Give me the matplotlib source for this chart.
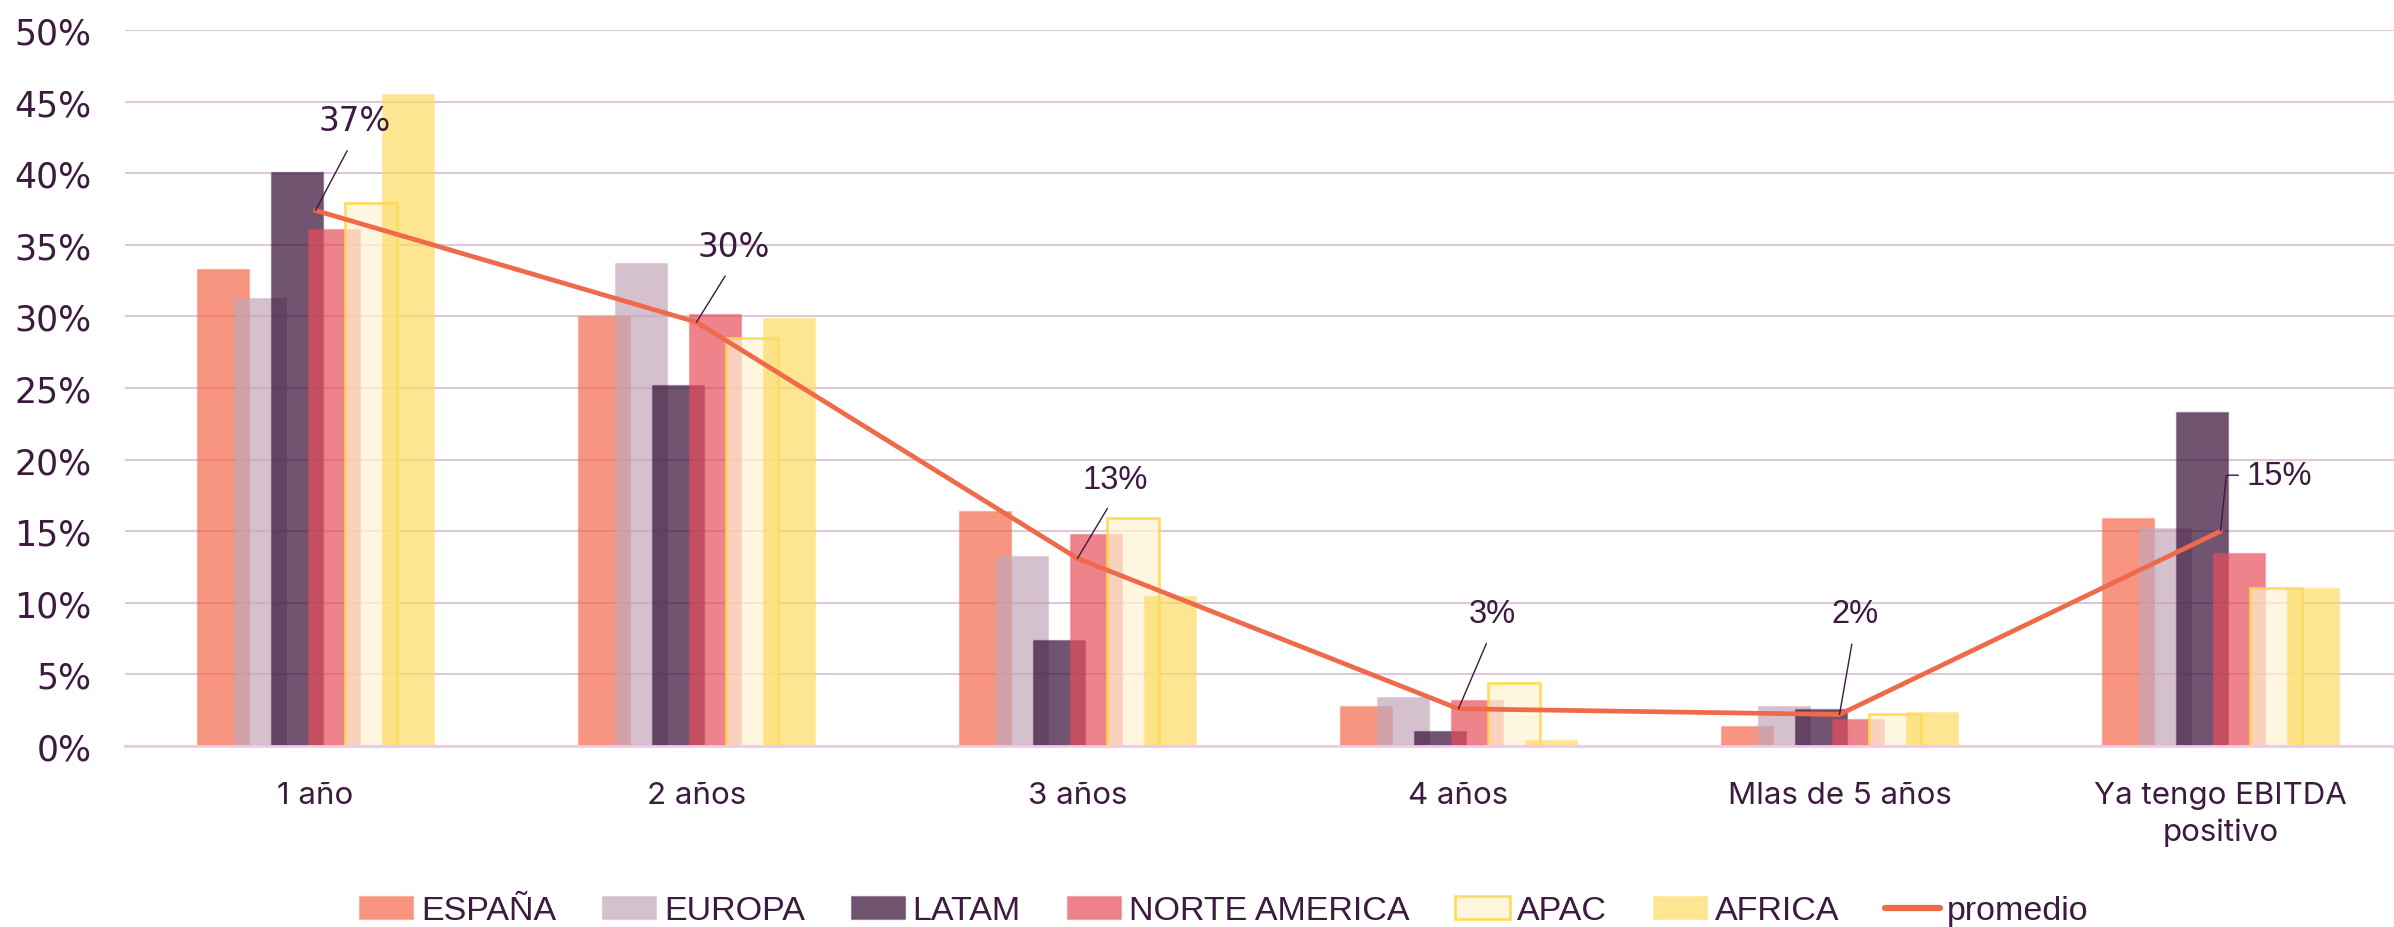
import numpy as np
import matplotlib
matplotlib.use("Agg")
import matplotlib.pyplot as plt
from matplotlib.colors import to_rgba
from matplotlib.lines import Line2D

categories = ["1 año", "2 años", "3 años", "4 años", "Mlas de 5 años", "Ya tengo EBITDA\npositivo"]
series_names = ["ESPAÑA", "EUROPA", "LATAM", "NORTE AMERICA", "APAC", "AFRICA"]
espana = [33.3, 30.0, 16.4, 2.8, 1.4, 15.9]
europa = [31.3, 33.7, 13.3, 3.4, 2.8, 15.2]
latam = [40.1, 25.2, 7.4, 1.05, 2.6, 23.3]
norte_america = [36.1, 30.2, 14.8, 3.2, 1.9, 13.5]
apac = [37.9, 28.5, 15.9, 4.4, 2.2, 11.0]
africa = [45.5, 29.9, 10.5, 0.45, 2.4, 11.0]
promedio = [37.4, 29.6, 13.1, 2.6, 2.2, 15.0]
promedio_labels = ["37%", "30%", "13%", "3%", "2%", "15%"]
yticks = [0, 5, 10, 15, 20, 25, 30, 35, 40, 45, 50]

TXT = "#3D1A40"
W, H = 2394, 928
fig = plt.figure(figsize=(W / 100, H / 100), dpi=100)
ax = fig.add_axes([125 / W, 1 - 747 / H, (2411 - 125) / W, (747 - 31) / H])

x = np.arange(len(categories))
step = 0.0973
width = 0.1377
a = 0.7
face = [to_rgba("#F4694A", a), to_rgba("#C3A7B8", a), to_rgba("#350C34", a),
        to_rgba("#E74E5C", a), to_rgba("#FFF3D2", a), to_rgba("#FEDA63", a)]
edge = [to_rgba("#F4694A", 0.25), to_rgba("#C3A7B8", 0.25), to_rgba("#350C34", 0.25),
        to_rgba("#E74E5C", 0.25), to_rgba("#FFD84A", 0.85), to_rgba("#FEDA63", 0.25)]
lws = [1, 1, 1, 1, 2.0, 1]
data = [espana, europa, latam, norte_america, apac, africa]

handles = []
for i, (name, vals) in enumerate(zip(series_names, data)):
    b = ax.bar(x + (i - 2.5) * step, vals, width=width, color=face[i],
               edgecolor=edge[i], linewidth=lws[i], zorder=2, label=name)
    handles.append(b)

ax.plot(x, promedio, color="#EE6A4B", lw=3.4, zorder=5, solid_capstyle="round")
line_handle = Line2D([], [], color="#EE6A4B", lw=4.5, solid_capstyle="round")

# labels for promedio
offsets = [(39, 90), (37, 76), (38, 79), (34, 95), (15, 101), (59, 56)]
fonts = ["DejaVu Sans", "DejaVu Sans", "Liberation Sans", "Liberation Sans", "Liberation Sans", "Liberation Sans"]
sizes = [23.5, 23.5, 23.5, 23.5, 23.5, 23.5]
for i, (lab, (dx, dy)) in enumerate(zip(promedio_labels, offsets)):
    if i == 5:
        ap = dict(arrowstyle="-", color=TXT, lw=1.0, shrinkA=4, shrinkB=0,
                  relpos=(0, 0.5), connectionstyle="angle,angleA=0,angleB=84,rad=0")
    else:
        ap = dict(arrowstyle="-", color=TXT, lw=1.0, shrinkA=9, shrinkB=0, relpos=(0.5, 0))
    ax.annotate(lab, xy=(x[i], promedio[i]), xytext=(dx * 0.72, dy * 0.72),
                textcoords="offset points", ha="center", va="center",
                fontsize=sizes[i], family=fonts[i], color=TXT, arrowprops=ap, zorder=6)

ax.set_xlim(-0.5, 5.5)
ax.set_ylim(0, 50)
ax.set_yticks(yticks)
ax.set_yticklabels([f"{v}%" for v in yticks], family="DejaVu Sans", fontsize=25, color=TXT)
ax.set_xticks(x)
ax.set_xticklabels(categories, family="Inter", fontsize=22.5, color=TXT, linespacing=1.4)
ax.tick_params(axis="both", length=0)
ax.tick_params(axis="y", pad=24)
ax.tick_params(axis="x", pad=25)
ax.yaxis.grid(True, color="#DCC8D6", lw=1.5, zorder=0)
ax.set_axisbelow(True)
for s in ["top", "right", "left"]:
    ax.spines[s].set_visible(False)
ax.spines["bottom"].set_color("#EFC9F0")
ax.spines["bottom"].set_linewidth(2)

leg = fig.legend(handles + [line_handle], series_names + ["promedio"], loc="center",
                 bbox_to_anchor=(1224 / W, 1 - 912 / H), ncol=7, frameon=False,
                 prop={"family": "Liberation Sans", "size": 24.5},
                 handlelength=1.6, handleheight=0.66, handletextpad=0.22,
                 columnspacing=1.35, borderaxespad=0)
for t in leg.get_texts():
    t.set_color(TXT)

fig.savefig("out.png", dpi=100)
